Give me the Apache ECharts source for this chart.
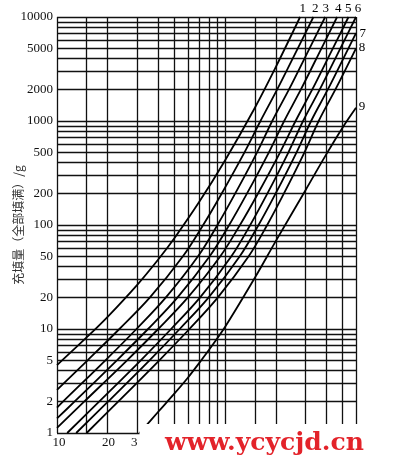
<!DOCTYPE html>
<html><head><meta charset="utf-8">
<script src="https://cdn.jsdelivr.net/npm/echarts@6/dist/echarts.min.js"></script>
<style>html,body{margin:0;padding:0;background:#fff}#c{width:393px;height:474px}</style>
</head><body><div id="c"></div>
<script>
// ---- data (x: diameter, y: fill quantity in g, log-log) ----
const curveNames = ['1','2','3','4','5','6','7','8','9'];
const curve1 = [[10,4.5],[15,8.3],[20,13.1],[30,26.6],[40,46.6],[50,75],[70,166],[100,420],[150,1334],[200,3300],[279,10000]];
const curve2 = [[10,2.6],[15.2,5],[23.5,10],[35.6,20],[56.1,50],[74,100],[95.2,200],[130.3,500],[162.2,1000],[203.6,2000],[270.4,5000],[334.8,10000]];
const curve3 = [[10,1.75],[10.85,2],[19.4,5],[29.7,10],[44.3,20],[69,50],[90,100],[114.6,200],[154.8,500],[190.6,1000],[239.3,2000],[317.7,5000],[393.4,10000]];
const curve4 = [[10,1.38],[12.7,2],[22.7,5],[34.8,10],[52,20],[80.9,50],[105.7,100],[134.7,200],[182,500],[224.4,1000],[281.7,2000],[374,5000],[463.1,10000]];
const curve5 = [[10,1.12],[14.5,2],[26.1,5],[40,10],[59.9,20],[93.6,50],[122.5,100],[156.5,200],[212.2,500],[262.3,1000],[329.2,2000],[437.1,5000],[541.3,10000]];
const curve6 = [[11.5,1],[17.8,2],[31.5,5],[47.7,10],[70.8,20],[108.9,50],[141,100],[178.1,200],[237.9,500],[290.7,1000],[364.9,2000],[484.4,5000],[600,10000]];
const curve7 = [[13,1],[20.1,2],[35.5,5],[53.7,10],[79.6,20],[122.2,50],[158,100],[199.4,200],[265.9,500],[324.5,1000],[407.3,2000],[540.7,5000],[600,7000]];
const curve8 = [[15,1],[23.1,2],[40.6,5],[61.3,10],[90.3,20],[138,50],[177.8,100],[223.3,200],[296.3,500],[360,1000],[451.9,2000],[600,5000]];
const curve9 = [[31,1],[40,1.6],[50,2.4],[60,3.4],[70,4.7],[80,6.27],[100,10.5],[150,31],[200,70],[300,215],[400,480],[500,867],[600,1340]];

const xGridValues = [10,15,20,30,40,50,60,70,80,90,100,150,200,300,400,500,600];
const xTickValues = [10,20,30];
const xTickLabels = ['10','20','3'];
const yGridValues = [1,2,3,4,5,6,7,8,9,10,20,30,40,50,60,70,80,90,100,200,300,400,500,600,700,800,900,1000,2000,3000,4000,5000,6000,7000,8000,9000,10000];
const yTickValues = [1,2,5,10,20,50,100,200,500,1000,2000,5000,10000];
const yTickLabels = ['1','2','5','10','20','50','100','200','500','1000','2000','5000','10000'];
const yAxisName = '充填量（全部填满）/g';
const watermark = 'www.ycycjd.cn';

// ---- styling ----
const serif = 'Liberation Serif';
const curves = [curve1,curve2,curve3,curve4,curve5,curve6,curve7,curve8,curve9];
const endLabelStyle = [
  {verticalAlign:'bottom', offset:[-0.5,-2]},
  {verticalAlign:'bottom', offset:[-1.5,-2]},
  {verticalAlign:'bottom', offset:[-2.7,-2]},
  {verticalAlign:'bottom', offset:[-2,-2]},
  {verticalAlign:'bottom', offset:[-3.5,-2]},
  {verticalAlign:'bottom', offset:[-1.3,-2]},
  {verticalAlign:'middle', offset:[3.5,0]},
  {verticalAlign:'middle', offset:[2.7,-1]},
  {verticalAlign:'middle', offset:[2.7,-1]}
];
const xTickOffsets = [[2,0],[1,0],[-3,0]];

const gridLineData = [];
xGridValues.forEach(v => {
  const k = xTickValues.indexOf(v);
  gridLineData.push({
    xAxis: v,
    label: k >= 0 ? {show:true, formatter: xTickLabels[k], position:'start', distance:3,
      offset: xTickOffsets[k], color:'#111', fontFamily: serif, fontSize:13} : {show:false}
  });
});
yGridValues.forEach(v => {
  const k = yTickValues.indexOf(v);
  gridLineData.push({
    yAxis: v,
    label: k >= 0 ? {show:true, formatter: yTickLabels[k], position:'start', distance:4,
      color:'#111', fontFamily: serif, fontSize:13} : {show:false}
  });
});

const series = curves.map((d, i) => ({
  type:'line', name: curveNames[i], data: d, symbol:'none', showSymbol:false,
  smooth: 0.35, silent:true, z:5,
  lineStyle:{color:'#000', width:1.8},
  endLabel: Object.assign({show:true, formatter: curveNames[i], color:'#000',
    fontFamily: serif, fontSize:13, distance:0, align:'left'}, endLabelStyle[i])
}));
series.unshift({
  type:'line', data:[], z:2, silent:true,
  markLine:{silent:true, symbol:'none', animation:false,
    lineStyle:{color:'#111', width:1.3, type:'solid'},
    emphasis:{disabled:true},
    data: gridLineData}
});

const chart = echarts.init(document.getElementById('c'), null, {renderer:'canvas'});
chart.setOption({
  animation:false,
  backgroundColor:'#fff',
  grid:{left:57, right:37, top:17, bottom:41, show:false},
  xAxis:{type:'log', logBase:10, min:10, max:600,
    axisLine:{show:false}, axisTick:{show:false}, axisLabel:{show:false}, splitLine:{show:false}},
  yAxis:{type:'log', logBase:10, min:1, max:10000,
    axisLine:{show:false}, axisTick:{show:false}, axisLabel:{show:false}, splitLine:{show:false},
    name: yAxisName, nameLocation:'middle', nameGap:33, nameRotate:90,
    nameTextStyle:{fontFamily:'Noto Sans CJK SC', fontSize:12, color:'#333'}},
  graphic:[
    {type:'rect', left:139.5, top:424, z:100, silent:true,
      shape:{width:254, height:50}, style:{fill:'#fff'}},
    {type:'text', x:165, y:443, z:101, silent:true,
      style:{text: watermark, font:'bold 25px "DejaVu Serif"', fill:'#e3232a', verticalAlign:'middle', align:'left'}}
  ],
  series: series
});
</script>
</body></html>
